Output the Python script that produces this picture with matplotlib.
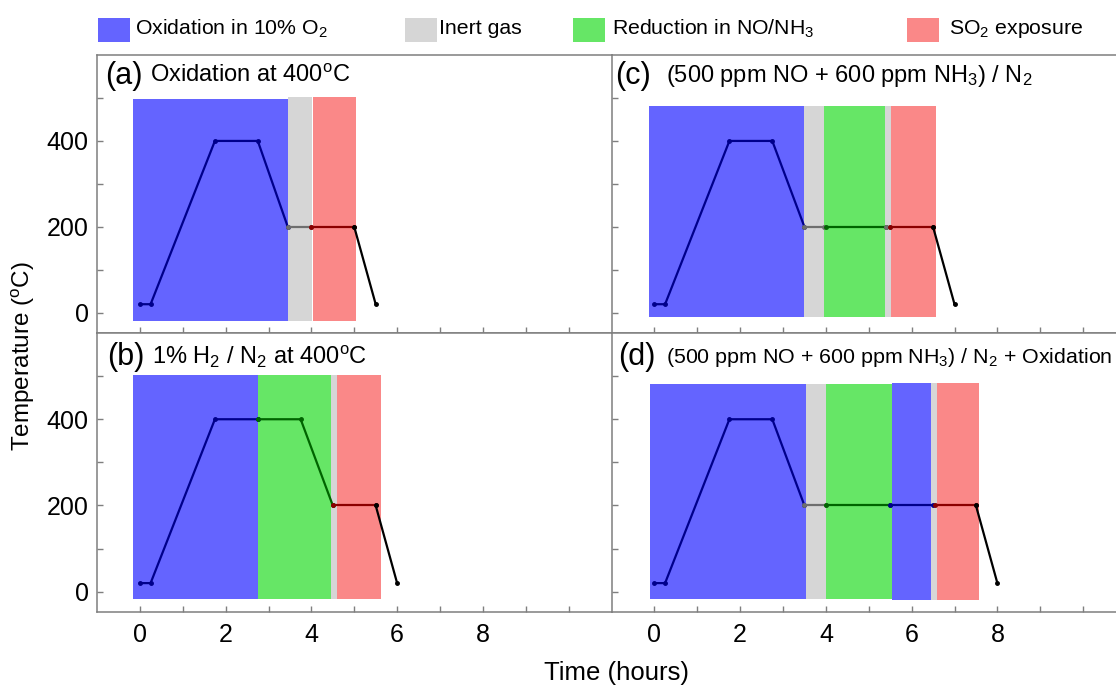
import matplotlib
matplotlib.use("Agg")
import matplotlib.pyplot as plt
from matplotlib.patches import Rectangle

plt.rcParams['font.family'] = ['Liberation Sans', 'DejaVu Sans']
plt.rcParams['mathtext.fontset'] = 'custom'
plt.rcParams['mathtext.rm'] = 'Liberation Sans'
plt.rcParams['mathtext.it'] = 'Liberation Sans:italic'
plt.rcParams['mathtext.bf'] = 'Liberation Sans:bold'

# ---------------- data ----------------
kind_fill = {'ox': '#6464FF', 'inert': '#D6D6D6', 'red': '#66E666', 'so2': '#FA8888'}
kind_line = {'ox': '#00008B', 'inert': '#6E6E6E', 'red': '#006400', 'so2': '#8B0000', 'end': '#000000'}

legend_kinds = ['ox', 'inert', 'red', 'so2']
legend_labels = ['Oxidation in 10% O$_2$', 'Inert gas', 'Reduction in NO/NH$_3$', 'SO$_2$ exposure']

# panel (a)
a_band_start = [-0.15, 3.45, 4.03]
a_band_end = [3.45, 4.02, 5.05]
a_band_bottom = [-18, -19, -20]
a_band_top = [498, 502, 502]
a_band_kind = ['ox', 'inert', 'so2']
a_seg_time = [[0, 0.25, 1.75, 2.75, 3.45], [3.45, 4.0], [4.0, 5.0], [5.0, 5.5]]
a_seg_temp = [[20, 20, 400, 400, 200], [200, 200], [200, 200], [200, 20]]
a_seg_kind = ['ox', 'inert', 'so2', 'end']

# panel (b)
b_band_start = [-0.15, 2.76, 4.45, 4.6]
b_band_end = [2.76, 4.45, 4.6, 5.63]
b_band_bottom = [-18, -18, -18, -18]
b_band_top = [503, 503, 503, 503]
b_band_kind = ['ox', 'red', 'inert', 'so2']
b_seg_time = [[0, 0.25, 1.75, 2.75], [2.75, 3.75, 4.5], [4.5, 5.5], [5.5, 6.0]]
b_seg_temp = [[20, 20, 400, 400], [400, 400, 200], [200, 200], [200, 20]]
b_seg_kind = ['ox', 'red', 'so2', 'end']

# panel (c)
c_band_start = [-0.12, 3.5, 3.95, 5.38, 5.52]
c_band_end = [3.5, 3.95, 5.38, 5.52, 6.58]
c_band_bottom = [-9, -9, -9, -9, -9]
c_band_top = [481, 481, 481, 481, 481]
c_band_kind = ['ox', 'inert', 'red', 'inert', 'so2']
c_seg_time = [[0, 0.25, 1.75, 2.75, 3.5], [3.5, 3.95], [4.0, 5.4], [5.4, 5.5], [5.5, 6.5], [6.5, 7.0]]
c_seg_temp = [[20, 20, 400, 400, 200], [200, 200], [200, 200], [200, 200], [200, 200], [200, 20]]
c_seg_kind = ['ox', 'inert', 'red', 'inert', 'so2', 'end']

# panel (d)
d_band_start = [-0.11, 3.53, 4.01, 5.54, 6.45, 6.59]
d_band_end = [3.53, 4.01, 5.54, 6.45, 6.59, 7.57]
d_band_bottom = [-17, -17, -17, -20, -20, -20]
d_band_top = [482, 482, 482, 484, 484, 484]
d_band_kind = ['ox', 'inert', 'red', 'ox', 'inert', 'so2']
d_seg_time = [[0, 0.25, 1.75, 2.75, 3.5], [3.5, 4.0], [4.0, 5.5], [5.5, 6.5], [6.55, 7.5], [7.5, 8.0]]
d_seg_temp = [[20, 20, 400, 400, 200], [200, 200], [200, 200], [200, 200], [200, 200], [200, 20]]
d_seg_kind = ['ox', 'inert', 'red', 'ox', 'so2', 'end']

panel_tags = ['(a)', '(b)', '(c)', '(d)']
panel_titles = ['Oxidation at 400$^{\\rm o}$C',
                '1% H$_2$ / N$_2$ at 400$^{\\rm o}$C',
                '(500 ppm NO + 600 ppm NH$_3$) / N$_2$',
                '(500 ppm NO + 600 ppm NH$_3$) / N$_2$ + Oxidation']

x_major = [0, 2, 4, 6, 8]
x_minor = [1, 3, 5, 7, 9, 10]
y_major = [0, 200, 400]
y_minor = [100, 300, 500]

# ---------------- figure ----------------
W, H = 1116, 688
fig = plt.figure(figsize=(W / 100, H / 100), dpi=100)

def fx(px):
    return px / W

def fy(py):
    return 1 - py / H

aw = 514.5 / W
ax_a = fig.add_axes([fx(97), fy(333), aw, 278 / H])
ax_b = fig.add_axes([fx(97), fy(612), aw, 279 / H])
ax_c = fig.add_axes([fx(611.5), fy(333), aw, 278 / H])
ax_d = fig.add_axes([fx(611.5), fy(612), aw, 279 / H])

panels = [
    (ax_a, a_band_start, a_band_end, a_band_bottom, a_band_top, a_band_kind, a_seg_time, a_seg_temp, a_seg_kind),
    (ax_b, b_band_start, b_band_end, b_band_bottom, b_band_top, b_band_kind, b_seg_time, b_seg_temp, b_seg_kind),
    (ax_c, c_band_start, c_band_end, c_band_bottom, c_band_top, c_band_kind, c_seg_time, c_seg_temp, c_seg_kind),
    (ax_d, d_band_start, d_band_end, d_band_bottom, d_band_top, d_band_kind, d_seg_time, d_seg_temp, d_seg_kind),
]

spine_col = '#7F7F7F'
title_sizes = [17, 17, 17, 15.4]
tag_x_px = [8, 10, 4, 7]
title_x_px = [53, 55, 55, 55]
tag_y_px = [21, 24, 21, 24]
for i, (ax, bs, be, bb, bt, bk, st, sT, sk) in enumerate(panels):
    for s, e, b, t, k in zip(bs, be, bb, bt, bk):
        ax.add_patch(Rectangle((s, b), e - s, t - b, facecolor=kind_fill[k], edgecolor='none', zorder=1))
    for tt, TT, k in zip(st, sT, sk):
        ax.plot(tt, TT, color=kind_line[k], lw=1.6, marker='o', ms=2.5, zorder=3)
    ax.set_xlim(-1, 11)
    ax.set_ylim(-47, 600)
    ax.set_xticks(x_major)
    ax.set_xticks(x_minor, minor=True)
    ax.set_yticks(y_major)
    ax.set_yticks(y_minor, minor=True)
    ax.tick_params(which='both', direction='in', length=4.5, width=1, color=spine_col,
                   labelsize=18, top=False, right=False)
    ax.tick_params(axis='x', pad=8)
    ax.tick_params(axis='y', pad=6)
    for sp in ax.spines.values():
        sp.set_color(spine_col)
        sp.set_linewidth(1.1)
    ax.spines['right'].set_visible(False)
    if i in (0, 2):
        ax.tick_params(labelbottom=False)
    if i in (2, 3):
        ax.tick_params(labelleft=False)
    hpx = 278 if i in (0, 2) else 279
    ty = 1 - tag_y_px[i] / hpx
    ax.text(tag_x_px[i] / 514.5, ty, panel_tags[i], transform=ax.transAxes, fontsize=22,
            va='center', ha='left')
    ax.text(title_x_px[i] / 514.5, ty, panel_titles[i], transform=ax.transAxes,
            fontsize=title_sizes[i], va='center', ha='left')

# legend across the top
leg_patch_x = [98, 405, 573, 907]
leg_text_x = [135, 439, 612.5, 949]
for k, lab, px, tx in zip(legend_kinds, legend_labels, leg_patch_x, leg_text_x):
    fig.add_artist(Rectangle((fx(px), fy(42)), 32 / W, 24 / H, transform=fig.transFigure,
                             facecolor=kind_fill[k], edgecolor='none'))
    fig.text(fx(tx), fy(29), lab, fontsize=15.3, va='center', ha='left')

fig.text(fx(23), fy(356), 'Temperature ($^{\\rm o}$C)', rotation=90, fontsize=17.5, va='center', ha='center')
fig.text(fx(616), fy(673), 'Time (hours)', fontsize=18.5, va='center', ha='center')

fig.savefig('out.png', dpi=100)
